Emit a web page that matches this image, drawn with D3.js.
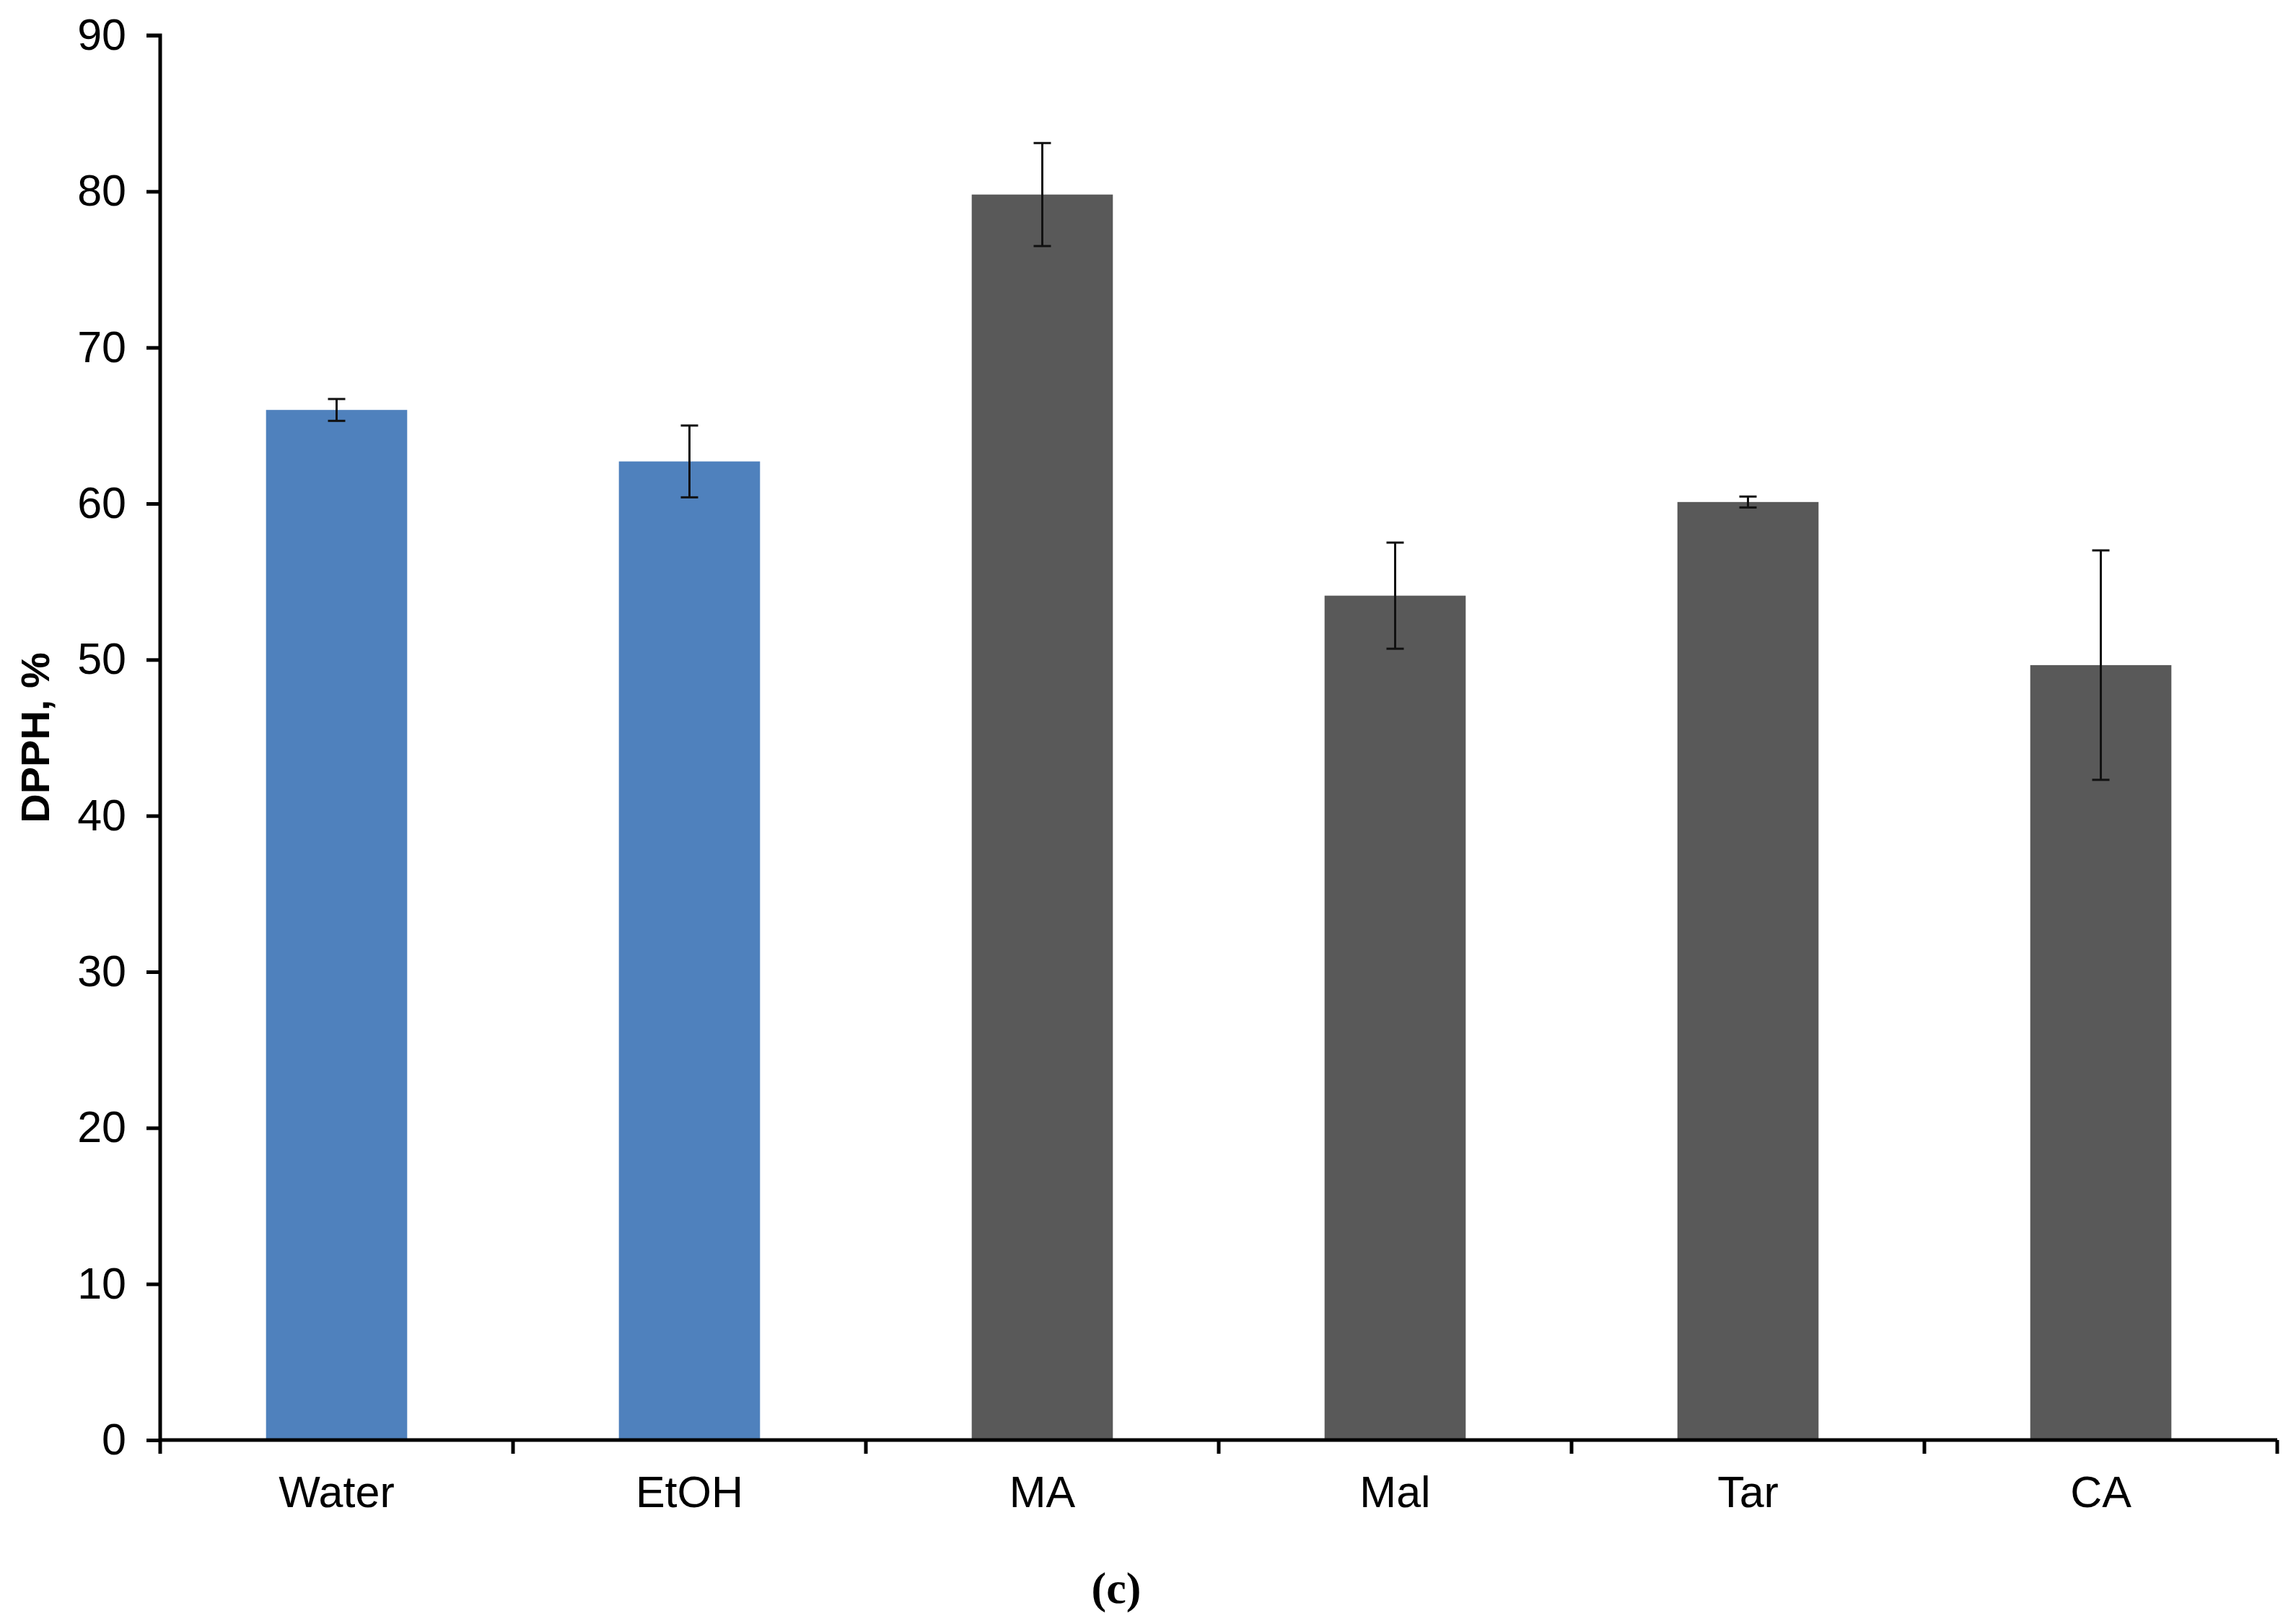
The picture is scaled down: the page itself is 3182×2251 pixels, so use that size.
<!DOCTYPE html>
<html>
<head>
<meta charset="utf-8">
<script src="https://cdn.jsdelivr.net/npm/d3@7"></script>
<style>
  body { margin: 0; background: #fff; }
  text { font-family: "Liberation Sans", Arial, sans-serif; }
</style>
</head>
<body>
<svg id="chart"></svg>
<script>
const categories = ["Water", "EtOH", "MA", "Mal", "Tar", "CA"];
const values = [66.0, 62.7, 79.8, 54.1, 60.1, 49.65];
const errors = [0.7, 2.3, 3.3, 3.4, 0.35, 7.35];
const barColors = ["#4f81bd", "#4f81bd", "#595959", "#595959", "#595959", "#595959"];
const yTicks = [0, 10, 20, 30, 40, 50, 60, 70, 80, 90];

const width = 3182, height = 2251;
const margin = { left: 222, right: 26, top: 49, bottom: 255 };

const svg = d3.select("#chart").attr("width", width).attr("height", height);

const x = d3.scaleBand()
  .domain(categories)
  .range([margin.left, width - margin.right])
  .paddingInner(0.6)
  .paddingOuter(0.3);

const y = d3.scaleLinear()
  .domain([0, 90])
  .range([height - margin.bottom, margin.top]);

// bars
svg.selectAll("rect.bar")
  .data(categories)
  .join("rect")
  .attr("class", "bar")
  .attr("x", d => x(d))
  .attr("width", x.bandwidth())
  .attr("y", (d, i) => y(values[i]))
  .attr("height", (d, i) => y(0) - y(values[i]))
  .attr("fill", (d, i) => barColors[i]);

// error bars
const cx = d => x(d) + x.bandwidth() / 2;
const err = svg.append("g").attr("stroke", "#111").attr("stroke-width", 3);
categories.forEach((d, i) => {
  const top = y(values[i] + errors[i]), bot = y(values[i] - errors[i]);
  err.append("line").attr("x1", cx(d)).attr("x2", cx(d)).attr("y1", top).attr("y2", bot);
  err.append("line").attr("x1", cx(d) - 12).attr("x2", cx(d) + 12).attr("y1", top).attr("y2", top);
  err.append("line").attr("x1", cx(d) - 12).attr("x2", cx(d) + 12).attr("y1", bot).attr("y2", bot);
});

// y axis
const yAxis = svg.append("g")
  .attr("transform", `translate(${margin.left},0)`)
  .call(d3.axisLeft(y).tickValues(yTicks).tickSize(19).tickPadding(28));
yAxis.selectAll("line, path").attr("stroke", "#000").attr("stroke-width", 5);
yAxis.select(".domain").attr("d", `M-19,${y(90)}H0V${y(0)}`);
yAxis.selectAll("text").attr("font-size", 61).attr("fill", "#000")
  .style("font-family", "Liberation Sans, Arial, sans-serif");

// x axis
const xAxis = svg.append("g")
  .attr("transform", `translate(0,${y(0)})`)
  .call(d3.axisBottom(x).tickSize(0).tickPadding(50));
xAxis.select(".domain").attr("stroke", "#000").attr("stroke-width", 5)
  .attr("d", `M${margin.left},0H${width - margin.right}`);
xAxis.selectAll("text").attr("font-size", 61).attr("fill", "#000")
  .style("font-family", "Liberation Sans, Arial, sans-serif");

// boundary ticks between categories
const step = x.step();
const bounds = d3.range(categories.length + 1).map(i => margin.left + i * (width - margin.right - margin.left) / categories.length);
svg.append("g").selectAll("line")
  .data(bounds)
  .join("line")
  .attr("x1", d => d).attr("x2", d => d)
  .attr("y1", y(0)).attr("y2", y(0) + 19)
  .attr("stroke", "#000").attr("stroke-width", 5);

// y title
svg.append("text")
  .attr("transform", `translate(68,${(y(0) + y(90)) / 2}) rotate(-90)`)
  .attr("text-anchor", "middle")
  .attr("font-size", 56)
  .attr("font-weight", "bold")
  .text("DPPH, %");

// panel label
svg.append("text")
  .attr("x", 1547).attr("y", 2222)
  .attr("text-anchor", "middle")
  .attr("font-size", 62)
  .attr("font-weight", "bold")
  .style("font-family", "Liberation Serif, Times New Roman, serif")
  .text("(c)");
</script>
</body>
</html>
